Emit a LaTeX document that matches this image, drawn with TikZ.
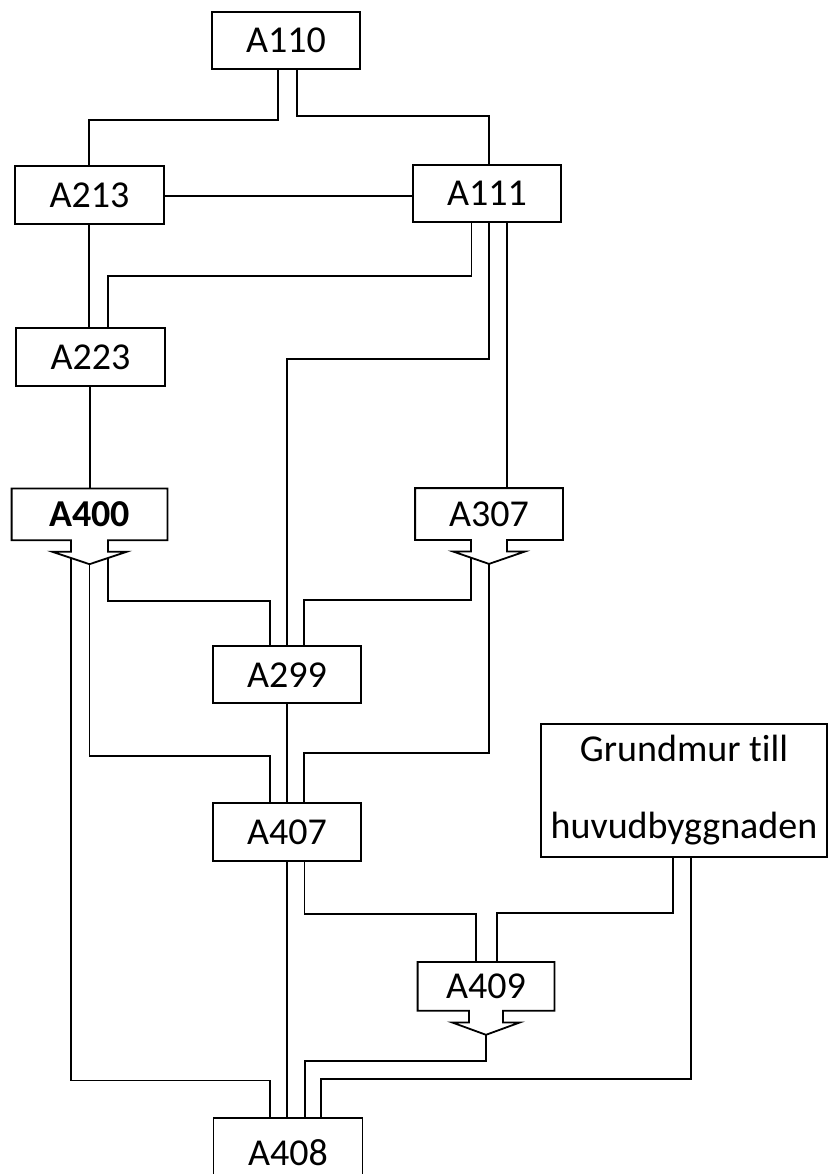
\documentclass[tikz,border=0pt]{standalone}
\usepackage{fontspec}
\setmainfont{Carlito}[Ligatures=NoCommon]
\usetikzlibrary{calc}
\tikzset{
  conn/.style={line width=1.8pt},
  box/.style={rectangle, draw, line width=1.8pt, inner sep=0pt,
    minimum width=148pt, minimum height=57pt,
    font=\fontsize{38}{44}\selectfont},
  arrowbody/.style={box, draw=none},
}
\newcommand\arrowbox[3]{%
  \draw[line width=1.8pt] (#1.south west) -- (#1.north west) -- (#1.north east) -- (#1.south east)
    -- ($(#1.south)+(#2,0)$) -- ($(#1.south)+(#2,11.6)$) -- ($(#1.south)+(#3,11.6)$)
    -- ($(#1.south)+(0,24)$) coordinate (#1tip)
    -- ($(#1.south)+(-#3,11.6)$) -- ($(#1.south)+(-#2,11.6)$) -- ($(#1.south)+(-#2,0)$) -- cycle;
  \coordinate (#1dl) at ($(#1.south)+(-#2,17.8)$);
  \coordinate (#1dr) at ($(#1.south)+(#2,17.8)$);
}
\begin{document}
\begin{tikzpicture}[x=1pt,y=-1pt]
\fill[white] (0,0) rectangle (830,1174);
\useasboundingbox (0,0) rectangle (830,1174);

% nodes
\node[box, minimum height=57.6pt] (A110) at (286,40.5) {A110};
\node[box, minimum width=149pt, minimum height=58pt] (A213) at (89.5,195) {A213};
\node[box] (A111) at (487,193.5) {A111};
\node[box, minimum width=149pt, minimum height=58pt] (A223) at (90.5,357) {A223};
\node[arrowbody, minimum width=154pt, minimum height=50pt, font=\fontsize{38}{44}\selectfont\bfseries] (A400) at (89.5,514.3) {A400};
\arrowbox{A400}{18.5}{37}
\node[arrowbody, minimum width=146pt, minimum height=50pt] (A307) at (489,514) {A307};
\arrowbox{A307}{18}{36}
\node[box, minimum width=148.5pt] (A299) at (287,674.7) {A299};
\node[box, minimum width=148.5pt, minimum height=58pt] (A407) at (287,832) {A407};
\node[box, minimum width=286pt, minimum height=133pt, align=center,
  text height=105.2pt, text depth=10pt,
  font=\fontsize{38}{77}\selectfont] (Grund) at (684,790.4) {Grundmur till\\huvudbyggnaden};
\node[arrowbody, minimum width=135pt, minimum height=47pt] (A409) at (486,986.4) {A409};
\arrowbox{A409}{17}{34}
\node[box, minimum width=149pt, minimum height=70pt] (A408) at (288,1153) {A408};

% connectors
\draw[conn] (A110.south -| 278,0) |- (89,120) -- (A213.north -| 89,0);
\draw[conn] (A110.south -| 297,0) |- (489,115.7) -- (A111.north -| 489,0);
\draw[conn] (A213.east |- 0,196) -- (A111.west |- 0,196);
\draw[conn] (A213.south -| 89,0) -- (A223.north -| 89,0);
\draw[conn] (A111.south -| 471.5,0) |- (108,276) -- (A223.north -| 108,0);
\draw[conn] (A111.south -| 489,0) |- (287,359) -- (A299.north -| 287,0);
\draw[conn] (A111.south -| 507,0) -- (A307.north -| 507,0);
\draw[conn] (A223.south -| 90,0) -- (A400.north -| 90,0);
\draw[conn] (A400dl) |- (270,1080.5) -- (A408.north -| 270,0);
\draw[conn] (A400tip) |- (270,756) -- (A407.north -| 270,0);
\draw[conn] (A400dr) |- (270,601) -- (A299.north -| 270,0);
\draw[conn] (A307dl) |- (304,600) -- (A299.north -| 304,0);
\draw[conn] (A307tip) |- (304,753) -- (A407.north -| 304,0);
\draw[conn] (A299.south) -- (A407.north);
\draw[conn] (A407.south) -- (A408.north -| 287,0);
\draw[conn] (A407.south -| 304.5,0) |- (476,914) -- (A409.north -| 476,0);
\draw[conn] (Grund.south -| 673,0) |- (497,913.3) -- (A409.north -| 497,0);
\draw[conn] (Grund.south -| 691,0) |- (321,1079.3) -- (A408.north -| 321,0);
\draw[conn] (A409tip) |- (305,1060.7) -- (A408.north -| 305,0);
\end{tikzpicture}
\end{document}
